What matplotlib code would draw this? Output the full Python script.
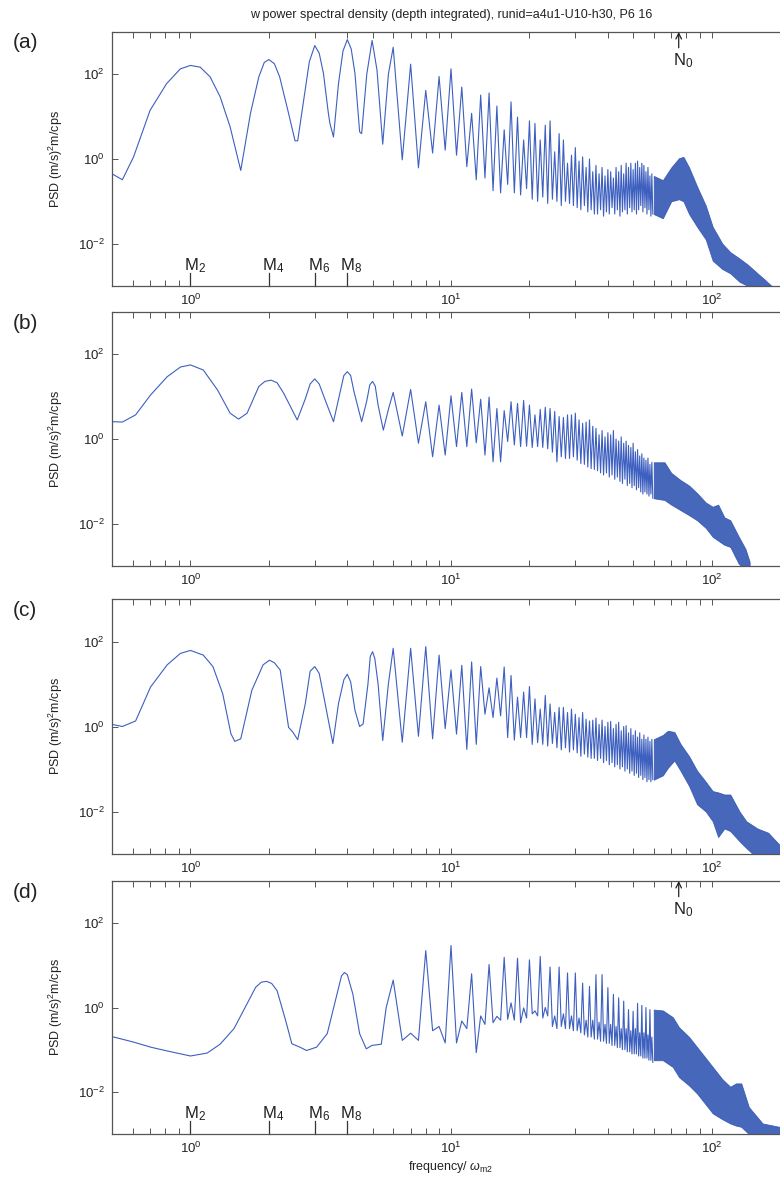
import numpy as np
import matplotlib

matplotlib.use("Agg")
import matplotlib.pyplot as plt
from matplotlib.ticker import LogLocator, NullLocator
from matplotlib.transforms import blended_transform_factory

plt.rcParams["font.family"] = ["Liberation Sans", "DejaVu Sans"]
plt.rcParams["mathtext.fontset"] = "custom"
plt.rcParams["mathtext.rm"] = "Liberation Sans"
plt.rcParams["mathtext.it"] = "Liberation Sans:italic"

TITLE = "w power spectral density (depth integrated), runid=a4u1-U10-h30, P6 16"
PANEL_LABELS = ["(a)", "(b)", "(c)", "(d)"]
Y_LABEL = "PSD (m/s)$^2$m/cps"
X_LABEL = "frequency/ $\\omega_{\\rm m2}$"

TIDE_FREQ = [1, 2, 3, 4]
TIDE_LABELS = ["M$_2$", "M$_4$", "M$_6$", "M$_8$"]
N0_FREQ = 74.8

# harmonics of M2 where the resolved spectral lines sit (peak at k, trough at k + 0.5)
HARMONICS = np.arange(6, 60)

# ---- panel (a): log10 PSD ----
low_freq_a = [0.50, 0.548, 0.605, 0.70, 0.81, 0.915, 1.0, 1.09, 1.19, 1.30, 1.42, 1.56, 1.70, 1.83,
              1.92, 2.0, 2.1, 2.2, 2.38, 2.52, 2.58, 2.72, 2.86, 3.0, 3.12, 3.24, 3.38, 3.43, 3.54,
              3.70, 3.85, 4.0, 4.14, 4.28, 4.46, 4.54, 4.75, 4.98, 5.2, 5.47, 5.75]
low_log_a = [-0.35, -0.49, 0.05, 1.15, 1.78, 2.13, 2.21, 2.17, 1.94, 1.47, 0.76, -0.27, 1.08, 1.94,
             2.28, 2.35, 2.25, 1.94, 1.08, 0.43, 0.43, 1.39, 2.3, 2.68, 2.5, 2.02, 1.1, 0.84, 0.52,
             1.78, 2.55, 2.82, 2.6, 2.02, 0.64, 0.60, 2.0, 2.80, 2.1, 0.35, 2.0]
peak_log_a = [2.64, 2.24, 1.62, 1.95, 2.13, 1.70, 1.08, 1.51, 1.56, 1.25, 0.69, 1.35, 0.99, 0.45, 0.90,
              0.84, 0.45, 0.80, 0.90, 0.17, 0.60, 0.45, -0.10, 0.09, 0.27, -0.05, 0.05, -0.2, 0.0, -0.3,
              -0.15, -0.35, -0.2, -0.4, -0.25, -0.3, -0.45, -0.2, -0.3, -0.15, -0.35, -0.1, -0.2, -0.1,
              -0.25, -0.1, -0.05, -0.2, -0.1, -0.15, -0.3, -0.2, -0.4, -0.35]
trough_log_a = [-0.02, -0.21, 0.14, 0.21, 0.09, -0.18, -0.49, -0.45, -0.75, -0.80, -0.60, -0.80, -0.85,
                -0.70, -0.95, -1.0, -0.9, -1.05, -0.95, -1.0, -1.1, -1.0, -1.05, -1.1, -1.15, -1.2,
                -1.1, -1.25, -1.2, -1.3, -1.3, -1.2, -1.35, -1.25, -1.3, -1.15, -1.3, -1.2, -1.35,
                -1.25, -1.2, -1.3, -1.15, -1.25, -1.2, -1.3, -1.2, -1.1, -1.25, -1.15, -1.3, -1.2,
                -1.35, -1.3]
band_freq_a = [60, 65, 70, 75, 78, 82, 88, 95, 101, 110, 118, 128, 138, 150, 160, 170]
band_hi_a = [-0.4, -0.5, -0.2, 0.02, 0.05, -0.2, -0.65, -1.1, -1.6, -2.0, -2.2, -2.35, -2.5, -2.7,
             -2.85, -3.0]
band_lo_a = [-1.3, -1.4, -1.0, -0.95, -1.0, -1.3, -1.6, -1.9, -2.4, -2.6, -2.7, -2.9, -3.0, -3.1,
             -3.1, -3.1]

# ---- panel (b) ----
low_freq_b = [0.50, 0.548, 0.616, 0.703, 0.814, 0.915, 1.0, 1.12, 1.27, 1.42, 1.53, 1.65, 1.83, 1.93,
              2.04, 2.15, 2.28, 2.57, 2.76, 2.88, 3.0, 3.12, 3.29, 3.54, 3.75, 3.88, 4.0, 4.12, 4.25,
              4.54, 4.75, 4.88, 5.0, 5.12, 5.25, 5.5, 5.75]
low_log_b = [0.41, 0.40, 0.57, 1.04, 1.47, 1.70, 1.75, 1.63, 1.16, 0.61, 0.47, 0.61, 1.24, 1.36,
             1.39, 1.33, 1.08, 0.45, 0.95, 1.3, 1.42, 1.3, 0.92, 0.41, 1.1, 1.5, 1.59, 1.5, 1.1,
             0.41, 0.9, 1.28, 1.36, 1.25, 0.8, 0.21, 0.7]
peak_log_b = [1.10, 1.17, 0.88, 0.80, 1.02, 1.10, 1.18, 0.94, 0.99, 0.72, 0.67, 0.88, 0.84, 0.91, 0.80,
              0.57, 0.70, 0.75, 0.72, 0.65, 0.53, 0.51, 0.57, 0.57, 0.61, 0.45, 0.37, 0.40, 0.45, 0.30,
              0.25, 0.1, 0.2, 0.05, 0.15, 0.1, 0.2, 0.0, -0.05, 0.05, -0.1, -0.05, -0.15, -0.2, -0.1,
              -0.3, -0.25, -0.4, -0.35, -0.45, -0.5, -0.45, -0.6, -0.55]
trough_log_b = [0.07, -0.10, -0.42, -0.38, -0.18, -0.18, -0.09, -0.38, -0.54, -0.54, -0.06, -0.14,
                -0.18, -0.17, -0.20, -0.18, -0.20, -0.23, -0.31, -0.54, -0.42, -0.46, -0.46, -0.42,
                -0.50, -0.58, -0.60, -0.66, -0.70, -0.72, -0.75, -0.8, -0.85, -0.8, -0.9, -0.85,
                -0.95, -0.9, -1.0, -1.05, -0.95, -1.1, -1.05, -1.15, -1.1, -1.2, -1.15, -1.25, -1.3,
                -1.25, -1.3, -1.35, -1.3, -1.4]
band_freq_b = [60, 66, 70, 76, 82, 88, 95, 101, 106, 112, 118, 127, 135, 140]
band_hi_b = [-0.55, -0.55, -0.8, -0.97, -1.1, -1.28, -1.5, -1.6, -1.55, -1.85, -1.92, -2.3, -2.6, -2.9]
band_lo_b = [-1.4, -1.44, -1.55, -1.68, -1.8, -1.92, -2.1, -2.31, -2.4, -2.5, -2.55, -2.94, -3.1, -3.1]

# ---- panel (c) ----
low_freq_c = [0.50, 0.548, 0.616, 0.703, 0.814, 0.915, 1.0, 1.12, 1.22, 1.33, 1.43, 1.48, 1.56, 1.72,
              1.9, 2.01, 2.1, 2.21, 2.38, 2.47, 2.58, 2.76, 2.88, 3.0, 3.12, 3.25, 3.52, 3.7, 3.88,
              4.0, 4.12, 4.28, 4.46, 4.6, 4.8, 4.9, 5.0, 5.1, 5.25, 5.47, 5.75]
low_log_c = [0.05, 0.0, 0.13, 0.93, 1.45, 1.72, 1.79, 1.68, 1.41, 0.77, -0.17, -0.35, -0.29, 0.85,
             1.45, 1.56, 1.5, 1.33, -0.02, -0.13, -0.31, 0.54, 1.3, 1.41, 1.25, 0.70, -0.40, 0.54,
             1.1, 1.23, 1.05, 0.38, 0.0, 0.06, 1.0, 1.65, 1.76, 1.6, 1.0, -0.33, 1.0]
peak_log_c = [1.84, 1.84, 1.88, 1.68, 1.33, 1.44, 1.52, 1.41, 0.91, 1.14, 1.40, 1.20, 0.69, 0.81, 0.94,
              0.65, 0.41, 0.73, 0.53, 0.33, 0.45, 0.45, 0.33, 0.41, 0.29, 0.21, 0.33, 0.17, 0.13, 0.15,
              0.2, 0.05, 0.15, 0.0, 0.1, 0.12, -0.05, 0.05, 0.1, -0.1, 0.0, 0.02, -0.15, -0.05, -0.2,
              -0.1, -0.25, -0.15, -0.3, -0.2, -0.3, -0.25, -0.35, -0.3]
trough_log_c = [-0.37, -0.23, -0.29, -0.05, -0.18, -0.54, -0.42, 0.29, 0.21, 0.25, -0.26, -0.32,
                -0.26, -0.26, -0.42, -0.38, -0.42, -0.46, -0.40, -0.50, -0.55, -0.50, -0.60, -0.55,
                -0.62, -0.70, -0.65, -0.72, -0.75, -0.75, -0.8, -0.75, -0.85, -0.8, -0.9, -0.85,
                -0.95, -0.9, -1.0, -0.95, -1.05, -1.0, -1.1, -1.05, -1.15, -1.1, -1.2, -1.15, -1.25,
                -1.2, -1.3, -1.25, -1.3, -1.25]
band_freq_c = [60, 65, 68, 72, 76, 82, 88, 95, 101, 106, 112, 118, 128, 136, 150, 165, 182, 200]
band_hi_c = [-0.3, -0.2, -0.1, -0.13, -0.41, -0.7, -1.04, -1.3, -1.52, -1.55, -1.6, -1.6, -2.0, -2.23,
             -2.4, -2.5, -2.78, -2.9]
band_lo_c = [-1.25, -1.15, -0.97, -0.8, -1.04, -1.4, -1.83, -2.0, -2.23, -2.6, -2.4, -2.46, -2.7, -2.86,
             -3.1, -3.1, -3.1, -3.1]

# ---- panel (d) ----
low_freq_d = [0.50, 0.605, 0.703, 0.814, 1.0, 1.16, 1.30, 1.47, 1.65, 1.78, 1.87, 1.96, 2.05, 2.15,
              2.32, 2.45, 2.63, 2.79, 3.05, 3.35, 3.6, 3.8, 3.9, 4.0, 4.2, 4.46, 4.73, 4.97, 5.4, 5.64]
low_log_d = [-0.69, -0.82, -0.94, -1.03, -1.15, -1.08, -0.87, -0.50, 0.09, 0.48, 0.6, 0.62, 0.57, 0.40,
             -0.31, -0.86, -0.94, -1.02, -0.94, -0.62, 0.16, 0.75, 0.83, 0.78, 0.32, -0.62, -0.98,
             -0.90, -0.87, 0.0]
peak_log_d = [0.65, -0.61, 1.35, -0.45, 1.47, -0.32, 0.80, -0.20, 1.02, -0.21, 1.19, 0.11, 1.17, -0.01,
              1.13, -0.08, 1.21, 0.0, 0.96, -0.2, 0.96, -0.15, 0.82, -0.2, 0.82, -0.25, 0.58, -0.3,
              0.50, -0.3, 0.78, -0.35, 0.78, -0.4, 0.47, -0.4, 0.31, -0.45, 0.23, -0.5, 0.15, -0.5,
              -0.05, -0.55, -0.09, -0.5, 0.1, -0.6, 0.05, -0.6, 0.0, -0.65, -0.05, -0.7]
trough_log_d = [-0.78, -0.78, -0.55, -0.84, -0.84, -0.5, -1.07, -0.4, -0.36, -0.3, -0.28, -0.3, -0.36,
                -0.25, -0.15, -0.2, -0.25, -0.2, -0.45, -0.5, -0.45, -0.5, -0.5, -0.55, -0.55, -0.6,
                -0.65, -0.7, -0.7, -0.75, -0.75, -0.8, -0.8, -0.85, -0.85, -0.9, -0.9, -0.95, -0.95,
                -1.0, -1.0, -1.05, -1.05, -1.1, -1.1, -1.1, -1.15, -1.15, -1.2, -1.2, -1.2, -1.25,
                -1.25, -1.3]
band_freq_d = [60, 65, 71, 75, 82, 88, 95, 101, 110, 118, 124, 130, 139, 157, 182, 200]
band_hi_d = [-0.05, -0.07, -0.23, -0.47, -0.7, -0.94, -1.2, -1.41, -1.7, -1.88, -1.8, -1.8, -2.36, -2.75,
             -2.83, -2.9]
band_lo_d = [-1.25, -1.25, -1.41, -1.65, -1.85, -2.04, -2.3, -2.51, -2.65, -2.75, -2.8, -2.83, -3.0, -3.1,
             -3.1, -3.1]

LINE_COLOR = "#3d5fbf"
BAND_COLOR = "#3356b3"
AXIS_COLOR = "#555555"

# axes boxes in pixels (left, top, right, bottom) of a 780x1182 canvas
FIG_W, FIG_H = 780, 1182
PANEL_BOXES = [(112, 32, 790, 286), (112, 312, 790, 566), (112, 599, 790, 854), (112, 881, 790, 1134)]


def resolved_line(low_freq, low_log, peak_log, trough_log):
    freq = np.concatenate([low_freq, np.column_stack([HARMONICS, HARMONICS + 0.5]).ravel()])
    logs = np.concatenate([low_log, np.column_stack([peak_log, trough_log]).ravel()])
    return freq, 10.0 ** logs


def add_tide_marks(axis):
    trans = blended_transform_factory(axis.transData, axis.transAxes)
    for freq, label in zip(TIDE_FREQ, TIDE_LABELS):
        axis.plot([freq, freq], [0, 0.052], transform=trans, color="#333333", lw=0.9, clip_on=False)
        axis.annotate(label, xy=(freq, 0.063), xycoords=trans, xytext=(3, 0), textcoords="offset points",
                      ha="center", va="baseline", fontsize=12, color="#222222")


def add_n0_mark(axis):
    trans = blended_transform_factory(axis.transData, axis.transAxes)
    axis.annotate("", xy=(N0_FREQ, 1.0), xycoords=trans, xytext=(N0_FREQ, 0.938), textcoords=trans,
                  arrowprops=dict(arrowstyle="->", lw=0.9, color="#222222", shrinkA=0, shrinkB=0))
    axis.annotate("N$_0$", xy=(N0_FREQ, 0.87), xycoords=trans, xytext=(3, 0), textcoords="offset points",
                  ha="center", va="baseline", fontsize=12, color="#222222")


panels = [
    (low_freq_a, low_log_a, peak_log_a, trough_log_a, band_freq_a, band_hi_a, band_lo_a),
    (low_freq_b, low_log_b, peak_log_b, trough_log_b, band_freq_b, band_hi_b, band_lo_b),
    (low_freq_c, low_log_c, peak_log_c, trough_log_c, band_freq_c, band_hi_c, band_lo_c),
    (low_freq_d, low_log_d, peak_log_d, trough_log_d, band_freq_d, band_hi_d, band_lo_d),
]

fig = plt.figure(figsize=(FIG_W / 100, FIG_H / 100), dpi=100)

for index, (panel, box, label) in enumerate(zip(panels, PANEL_BOXES, PANEL_LABELS)):
    low_freq, low_log, peak_log, trough_log, band_freq, band_hi, band_lo = panel
    left, top, right, bottom = box
    axis = fig.add_axes([left / FIG_W, 1 - bottom / FIG_H, (right - left) / FIG_W, (bottom - top) / FIG_H])

    freq, psd = resolved_line(low_freq, low_log, peak_log, trough_log)
    axis.plot(freq, psd, color=LINE_COLOR, lw=0.8)
    axis.fill_between(band_freq, 10.0 ** np.array(band_lo), 10.0 ** np.array(band_hi),
                      color=BAND_COLOR, alpha=0.9, lw=0.6)

    axis.set_xscale("log")
    axis.set_yscale("log")
    axis.set_xlim(0.5, 200)
    axis.set_ylim(1e-3, 1e3)
    axis.set_yticks([1e-2, 1, 1e2])
    axis.yaxis.set_minor_locator(NullLocator())
    axis.xaxis.set_major_locator(LogLocator(base=10))
    axis.xaxis.set_minor_locator(LogLocator(base=10, subs=np.arange(2, 10)))
    axis.tick_params(which="both", direction="in", top=True, right=True, length=4, width=0.7,
                     color=AXIS_COLOR, labelsize=9.5, labelcolor="#222222", pad=5)
    for spine in axis.spines.values():
        spine.set_color(AXIS_COLOR)
        spine.set_linewidth(0.9)

    axis.set_ylabel(Y_LABEL, fontsize=9, color="#222222")
    axis.yaxis.set_label_coords(-0.07, 0.5)
    fig.text(13 / FIG_W, 1 - (top + 11) / FIG_H, label, fontsize=15, va="center", ha="left",
             family=["Liberation Sans Narrow", "Liberation Sans", "DejaVu Sans"], color="#222222")

    if index in (0, 3):
        add_tide_marks(axis)
        add_n0_mark(axis)
    if index == 3:
        axis.set_xlabel(X_LABEL, fontsize=9, color="#222222", labelpad=2)

fig.text(451 / FIG_W, 1 - 15 / FIG_H, TITLE, ha="center", va="center", fontsize=9, color="#222222")

fig.savefig("out.png", dpi=100)
